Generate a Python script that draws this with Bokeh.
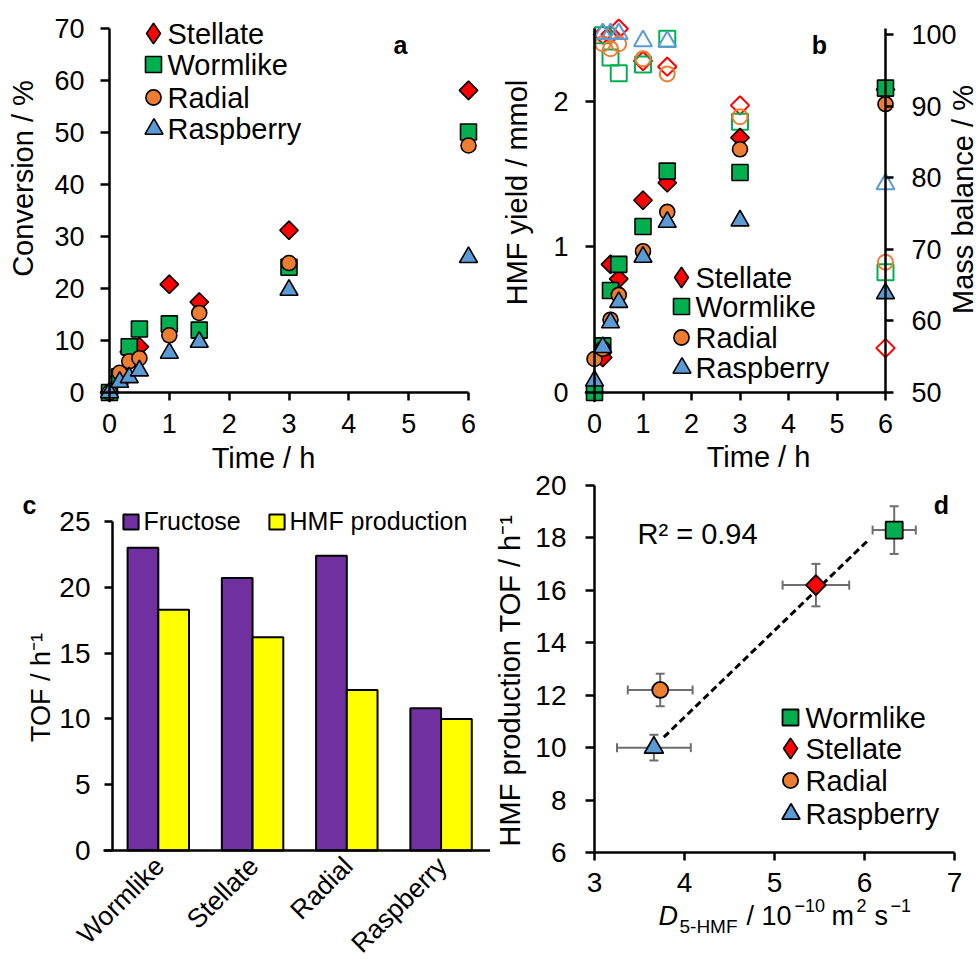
import math
from bokeh.plotting import figure
from bokeh.models import (Range1d, LinearAxis, FixedTicker, Label,
                          Legend, LegendItem, Whisker, TeeHead, ColumnDataSource)
from bokeh.layouts import row, column
from bokeh.transform import dodge
from bokeh.embed import file_html
from bokeh.resources import INLINE

NaN = float("nan")

# ---------------- data ----------------
time_h = [0, 0.17, 0.33, 0.5, 1, 1.5, 3, 6]
conv_stellate = [0, 3.0, 7.8, 8.8, 20.8, 17.4, 31.2, 58.1]
conv_wormlike = [0, 3.0, 8.8, 12.2, 13.2, 12.0, 24.1, 50.1]
conv_radial = [0, 3.8, 6.0, 6.6, 11.0, 15.3, 24.9, 47.5]
conv_raspberry = [0, 2.0, 2.9, 4.2, 7.6, 9.7, 19.7, 26.0]

hmf_stellate = [0, 0.24, 0.88, 0.78, 1.32, 1.44, 1.75, 2.08]
hmf_wormlike = [0, 0.32, 0.70, 0.88, 1.14, 1.52, 1.51, 2.09]
hmf_radial = [0.23, 0.30, 0.50, 0.67, 0.97, 1.24, 1.67, 1.98]
hmf_raspberry = [0.08, 0.31, 0.48, 0.62, 0.93, 1.17, 1.18, 0.68]

mb_stellate = [NaN, 100.0, 100.0, 100.8, 96.3, 95.5, 90.1, 56.2]
mb_wormlike = [NaN, 99.9, 96.8, 94.6, 95.8, 99.4, 87.8, 66.8]
mb_radial = [NaN, 98.7, 98.0, 98.7, 96.6, 94.5, 88.5, 68.2]
mb_raspberry = [NaN, 100.1, 100.1, 100.1, 99.1, 99.0, NaN, 79.1]

morphologies = ["Wormlike", "Stellate", "Radial", "Raspberry"]
tof_fructose = [23.0, 20.7, 22.4, 10.8]
tof_hmf = [18.3, 16.2, 12.2, 10.0]

d_5hmf = [6.33, 5.46, 3.73, 3.66]
d_5hmf_err = [0.24, 0.37, 0.36, 0.41]
tof_hmf_err = [0.91, 0.81, 0.62, 0.49]
fit_d = [3.77, 6.04]
fit_tof = [10.40, 17.91]
r_squared = 0.94

time_ticks = [0, 1, 2, 3, 4, 5, 6]
conv_ticks = [0, 10, 20, 30, 40, 50, 60, 70]
hmf_ticks = [0, 1, 2]
mb_ticks = [50, 60, 70, 80, 90, 100]
tof_ticks = [0, 5, 10, 15, 20, 25]
d_ticks = [3, 4, 5, 6, 7]
tofd_ticks = [6, 8, 10, 12, 14, 16, 18, 20]

# ---------------- style ----------------
FONT = "Liberation Sans"
TXT = "#000000"
RED, GREEN, ORANGE, BLUE = "#FF0000", "#00B050", "#ED7D31", "#5B9BD5"
PURPLE, YELLOW = "#7030A0", "#FFFF00"
GRAY = "#6E6E6E"

STY = {
    "Stellate": dict(marker="square", angle=math.pi / 4, size=13, color=RED),
    "Wormlike": dict(marker="square", angle=0.0, size=16, color=GREEN),
    "Radial": dict(marker="circle", angle=0.0, size=15, color=ORANGE),
    "Raspberry": dict(marker="triangle", angle=0.0, size=18, color=BLUE),
}
LEG_SIZE = {"Stellate": 21, "Wormlike": 16, "Radial": 15, "Raspberry": 18}


def lin_range(v0, p0, v1, p1, lo_px, hi_px):
    s = (v1 - v0) / (p1 - p0)
    return Range1d(v0 + (lo_px - p0) * s, v0 + (hi_px - p0) * s)


def make_fig(box, x_range, y_range):
    ox, oy, w, h = box
    p = figure(width=w, height=h, x_range=x_range, y_range=y_range,
               output_backend="svg", toolbar_location=None,
               min_border_left=0, min_border_right=0,
               min_border_top=0, min_border_bottom=0)
    p.outline_line_color = None
    p.grid.visible = False
    p.background_fill_color = "white"
    p.border_fill_color = "white"
    return p


def style_axis(ax, ticks, size, standoff, tick_out, loc, bounds):
    ax.ticker = FixedTicker(ticks=ticks)
    ax.fixed_location = loc
    ax.bounds = bounds
    ax.axis_line_color = "black"
    ax.axis_line_width = 2.5
    ax.major_tick_line_color = "black"
    ax.major_tick_line_width = 2.5
    ax.major_tick_out = tick_out
    ax.major_tick_in = 0
    ax.minor_tick_line_color = None
    ax.minor_tick_out = 0
    ax.minor_tick_in = 0
    ax.major_label_text_font = FONT
    ax.major_label_text_font_size = f"{size}px"
    ax.major_label_text_color = TXT
    ax.major_label_standoff = standoff
    ax.axis_label = None


def add_text(p, box, text, px, py, size, angle=0.0, align="center", style="normal"):
    """px, py: centre (middle) of the text's capital height, page pixels."""
    ox, oy, w, h = box
    p.add_layout(Label(x=px - ox, y=oy + h - py, x_units="screen", y_units="screen",
                       text=text, angle=angle, text_align=align,
                       text_baseline="middle", text_font=FONT,
                       text_font_size=f"{size}px", text_color=TXT,
                       text_font_style=style))


def legend_swatch(p, box, renderer, msize, cx, cy, factor=0.4, text=" ", fsize=25, tx=None):
    ox, oy, w, h = box
    g = int(round(msize / factor))
    standoff = 0 if tx is None else int(round(tx - (cx + g / 2)))
    lg = Legend(items=[LegendItem(label=text, renderers=[renderer])],
                location=(cx - g / 2 - ox, oy + h - cy - g / 2),
                orientation="vertical", glyph_width=g, glyph_height=g,
                label_height=g, label_standoff=max(standoff, 0),
                padding=0, margin=0, spacing=0,
                border_line_color=None, background_fill_alpha=0,
                label_text_font=FONT, label_text_font_size=f"{fsize}px",
                label_text_color=TXT, label_text_baseline="middle")
    p.add_layout(lg)


def marker_legend(p, box, renderers, names, cx, rows, tx, fsize):
    for name, cy in zip(names, rows):
        if name == "Stellate":
            s = STY[name]
            r = p.scatter(x=[NaN], y=[NaN], marker="diamond", size=s["size"],
                          fill_color=s["color"], line_color="black", line_width=1.6)
        else:
            r = renderers[name]
        legend_swatch(p, box, r, LEG_SIZE[name], cx, cy)
        add_text(p, box, name, tx, cy, fsize, align="left")


# ================= panel a =================
BA = (0, 0, 490, 480)
pa = make_fig(BA, lin_range(0, 109, 6, 468, 0, 490), lin_range(0, 392, 70, 28, 480, 0))
style_axis(pa.xaxis[0], time_ticks, 27, 13, 8, 0, (0, 6))
style_axis(pa.yaxis[0], conv_ticks, 27, 16, 9, 0, (0, 70))

rend_a = {}
for name, vals in [("Stellate", conv_stellate), ("Wormlike", conv_wormlike),
                   ("Radial", conv_radial), ("Raspberry", conv_raspberry)]:
    s = STY[name]
    rend_a[name] = pa.scatter(time_h, vals, marker=s["marker"], angle=s["angle"],
                              size=s["size"], fill_color=s["color"],
                              line_color="black", line_width=1.6)

marker_legend(pa, BA, rend_a, ["Stellate", "Wormlike", "Radial", "Raspberry"],
              153, [33, 64, 97, 128], 167, 29)

add_text(pa, BA, "Conversion / %", 22, 178, 29, angle=math.pi / 2)
add_text(pa, BA, "Time / h", 263, 457, 29)
add_text(pa, BA, "a", 400, 44, 25, style="bold")

# ================= panel b =================
BB = (490, 0, 489, 471)
pb = make_fig(BB, lin_range(0, 594, 6, 885, 490, 979), lin_range(0, 392, 2, 100.7, 471, 0))
pb.extra_y_ranges = {"mb": lin_range(50, 392, 100, 34, 471, 0)}
style_axis(pb.xaxis[0], time_ticks, 27, 13, 8, 0, (0, 6))
style_axis(pb.yaxis[0], hmf_ticks, 27, 17, 9, 0, (0, 2.5))
ax_mb = LinearAxis(y_range_name="mb")
style_axis(ax_mb, mb_ticks, 27, 18, 8, 6, (50, 100.9))
pb.add_layout(ax_mb, "right")

for name, vals in [("Stellate", mb_stellate), ("Wormlike", mb_wormlike),
                   ("Radial", mb_radial), ("Raspberry", mb_raspberry)]:
    s = STY[name]
    pb.scatter(time_h, vals, y_range_name="mb", marker=s["marker"], angle=s["angle"],
               size=s["size"], fill_color=None, line_color=s["color"], line_width=2)

rend_b = {}
for name, vals in [("Stellate", hmf_stellate), ("Wormlike", hmf_wormlike),
                   ("Radial", hmf_radial), ("Raspberry", hmf_raspberry)]:
    s = STY[name]
    rend_b[name] = pb.scatter(time_h, vals, marker=s["marker"], angle=s["angle"],
                              size=s["size"], fill_color=s["color"],
                              line_color="black", line_width=1.6)

marker_legend(pb, BB, rend_b, ["Stellate", "Wormlike", "Radial", "Raspberry"],
              681, [277, 306, 337, 367], 695, 29)

add_text(pb, BB, "HMF yield / mmol", 516, 192, 29, angle=math.pi / 2)
add_text(pb, BB, "Mass balance / %", 962, 199, 29, angle=math.pi / 2)
add_text(pb, BB, "Time / h", 758, 456, 29)
add_text(pb, BB, "b", 819, 44, 25, style="bold")

# ================= panel c =================
BC = (0, 480, 490, 483)
pc = make_fig(BC, lin_range(0, 112, 4, 489, 0, 490), lin_range(0, 850, 25, 521, 963, 480))
cat_pos = [i + 0.5 for i in range(len(morphologies))]
src_c = ColumnDataSource(dict(pos=cat_pos, fructose=tof_fructose, hmf=tof_hmf))
r_fru = pc.vbar(x=dodge("pos", -0.177), top="fructose", width=0.326,
                source=src_c, fill_color=PURPLE, line_color="black", line_width=2)
r_hmf = pc.vbar(x=dodge("pos", 0.149), top="hmf", width=0.326,
                source=src_c, fill_color=YELLOW, line_color="black", line_width=2)
style_axis(pc.yaxis[0], tof_ticks, 28, 14, 8, 0, (0, 25))
style_axis(pc.xaxis[0], cat_pos, 26.5, 11, 0, 0, (-0.1, 4.05))
pc.xaxis[0].major_tick_line_color = None
pc.xaxis[0].major_label_overrides = {p: m for p, m in zip(cat_pos, morphologies)}
pc.xaxis[0].major_label_orientation = math.pi / 4

legend_swatch(pc, BC, r_fru, 15, 130, 526, factor=0.8, text="Fructose", fsize=25, tx=143)
legend_swatch(pc, BC, r_hmf, 15, 276, 526, factor=0.8, text="HMF production", fsize=25, tx=289)
add_text(pc, BC, "TOF / h\u207b\u00b9", 40, 687, 27, angle=math.pi / 2)
add_text(pc, BC, "c", 29, 504, 25, style="bold")

# ================= panel d =================
BD = (490, 471, 489, 492)
pd_ = make_fig(BD, lin_range(3, 594, 7, 954, 490, 979), lin_range(6, 852, 20, 485, 963, 471))
style_axis(pd_.xaxis[0], d_ticks, 28, 12, 8, 6, (3, 7))
style_axis(pd_.yaxis[0], tofd_ticks, 28, 19, 9, 3, (6, 20))

src_d = ColumnDataSource(dict(
    x=d_5hmf, y=tof_hmf,
    xlo=[v - e for v, e in zip(d_5hmf, d_5hmf_err)],
    xhi=[v + e for v, e in zip(d_5hmf, d_5hmf_err)],
    ylo=[v - e for v, e in zip(tof_hmf, tof_hmf_err)],
    yhi=[v + e for v, e in zip(tof_hmf, tof_hmf_err)],
))
for dim, base, lo, hi in [("width", "y", "xlo", "xhi"), ("height", "x", "ylo", "yhi")]:
    wk = Whisker(source=src_d, base=base, lower=lo, upper=hi, dimension=dim,
                 line_color=GRAY, line_width=2, level="underlay",
                 lower_head=TeeHead(size=9, line_color=GRAY, line_width=2),
                 upper_head=TeeHead(size=9, line_color=GRAY, line_width=2))
    pd_.add_layout(wk)

pd_.line(fit_d, fit_tof, line_color="black", line_width=3, line_dash="7 4")

rend_d = {}
for i, name in enumerate(morphologies):
    s = STY[name]
    rend_d[name] = pd_.scatter([d_5hmf[i]], [tof_hmf[i]], marker=s["marker"],
                               angle=s["angle"], size=s["size"] + 1,
                               fill_color=s["color"], line_color="black",
                               line_width=1.8)

marker_legend(pd_, BD, rend_d, morphologies, 790, [717, 748, 780, 813], 805, 29)

add_text(pd_, BD, f"R\u00b2 = {r_squared:.2f}", 637, 533, 29, align="left")
add_text(pd_, BD, "HMF production TOF / h\u207b\u00b9", 509, 680, 29, angle=math.pi / 2)
add_text(pd_, BD, "d", 941, 504, 25, style="bold")
# composed axis title: D_5-HMF / 10^-10 m^2 s^-1
add_text(pd_, BD, "D", 658, 915, 27, align="left", style="italic")
add_text(pd_, BD, "5-HMF", 679, 926, 19, align="left")
add_text(pd_, BD, "/ 10", 746, 915, 27, align="left")
add_text(pd_, BD, "\u221210", 794, 905, 18, align="left")
add_text(pd_, BD, "m", 831, 915, 27, align="left")
add_text(pd_, BD, "2", 856, 905, 18, align="left")
add_text(pd_, BD, "s", 874, 915, 27, align="left")
add_text(pd_, BD, "\u22121", 890, 905, 18, align="left")

layout = row(column(pa, pc), column(pb, pd_))
open("out.html", "w").write(file_html(layout, INLINE))
